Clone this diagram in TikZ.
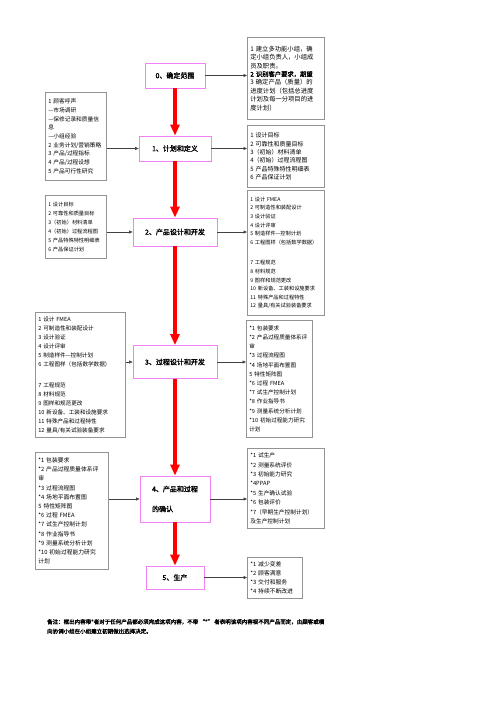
\documentclass[tikz,border=0pt]{standalone}
\usepackage{fontspec}
\setmainfont{Noto Sans CJK SC}[AutoFakeBold=2]
\usepackage{tikz}
\usetikzlibrary{arrows.meta}
\definecolor{fasecol}{RGB}{245,130,245}

\begin{document}
\begin{tikzpicture}[x=1pt, y=-1pt,
    fase/.style={draw=fasecol, line width=0.8pt, fill=white, align=left, inner xsep=6pt,
        font=\fontsize{7}{20}\selectfont\bfseries},
    elenco/.style={draw=gray!85, line width=0.7pt, anchor=north west, align=left,
        inner xsep=3pt, inner ysep=2pt, font=\fontsize{5.8}{9}\selectfont},
    flusso/.style={draw=red, line width=3.4pt, -{Triangle[width=9pt,length=11pt]}},
    freccia/.style={draw=black!75, line width=0.6pt, -{Triangle[width=3pt,length=3.5pt]}}]

    \fill[white] (0,0) rectangle (500,708);
    \useasboundingbox (0,0) rectangle (500,708);

    % fasi
    \node[fase, minimum width=60pt, minimum height=25pt] (c0) at (175,75.5) {0、确定范围};
    \node[fase, minimum width=72pt, minimum height=25pt] (c1) at (175,148.5) {1、计划和定义};
    \node[fase, minimum width=84pt, minimum height=28pt] (c2) at (175,232) {2、产品设计和开发};
    \node[fase, minimum width=84pt, minimum height=33pt] (c3) at (175,362) {3、过程设计和开发};
    \node[fase, minimum width=70pt, minimum height=46pt] (c4) at (175,499) {4、产品和过程\\的确认};
    \node[fase, minimum width=58pt, minimum height=23pt] (c5) at (175,577.5) {5、生产};

    \draw[flusso] (c0) -- (c1);
    \draw[flusso] (c1) -- (c2);
    \draw[flusso] (c2) -- (c3);
    \draw[flusso] (c3) -- (c4);
    \draw[flusso] (c4) -- (c5);

    % uscite
    \node[elenco, text width=71pt, minimum height=82pt, font=\fontsize{6.3}{8.4}\selectfont] (r0) at (247,37)
        {1 建立多功能小组，确\\ 定小组负责人，小组成\\ 员及职责。\\ {\bfseries 2 识别客户要求，期望}\\
         3 确定产品（质量）的\\ 进度计划（包括总进度\\ 计划及每一分项目的进\\ 度计划）};
    \node[elenco, text width=71pt, minimum height=62pt, font=\fontsize{6}{8.4}\selectfont] (r1) at (247,125)
        {1 设计目标\\ 2 可靠性和质量目标\\ 3（初始）材料清单\\ 4（初始）过程流程图\\ 5 产品特殊特性明细表\\ 6 产品保证计划};
    \node[elenco, text width=71pt, minimum height=125pt, font=\fontsize{5.2}{8.6}\selectfont] (r2) at (247,190)
        {1 设计 FMEA\\ 2 可制造性和装配设计\\ 3 设计验证\\ 4 设计评审\\ 5 制造样件—控制计划\\ 6 工程图样（包括数学数据）\\[12pt]
         7 工程规范\\ 8 材料规范\\ 9 图样和规范更改\\ 10 新设备、工装和设施要求\\ 11 特殊产品和过程特性\\ 12 量具/有关试验装备要求};
    \node[elenco, text width=60pt, minimum height=117pt, font=\fontsize{5.6}{9.2}\selectfont] (r3) at (246,320)
        {{*}1 包装要求\\ {*}2 产品过程质量体系评\\ 审\\ {*}3 过程流程图\\ {*}4 场地平面布置图\\ 5 特性矩阵图\\
         {*}6 过程 FMEA\\ {*}7 试生产控制计划\\ {*}8 作业指导书\\ {*}9 测量系统分析计划\\ {*}10 初始过程能力研究\\ 计划};
    \node[elenco, text width=71pt, minimum height=80pt, font=\fontsize{5.7}{9.4}\selectfont] (r4) at (247,448)
        {{*}1 试生产\\ {*}2 测量系统评价\\ {*}3 初始能力研究\\ {*}4PPAP\\ {*}5 生产确认试验\\ {*}6 包装评价\\
         {*}7（早期生产控制计划）\\ 及生产控制计划};
    \node[elenco, text width=49pt, minimum height=41pt] (r5) at (247,557)
        {{*}1 减少变差\\ {*}2 顾客满意\\ {*}3 交付和服务\\ {*}4 持续不断改进};

    % ingressi
    \node[elenco, text width=55pt, minimum height=88pt, font=\fontsize{5.7}{8.7}\selectfont] (l1) at (45,92)
        {1 顾客呼声\\ —市场调研\\ —保修记录和质量信\\ 息\\ —小组经验\\ 2 业务计划/营销策略\\
         3 产品/过程指标\\ 4 产品/过程设想\\ 5 产品可行性研究};
    \node[elenco, text width=55pt, minimum height=63pt, font=\fontsize{5.2}{9}\selectfont] (l2) at (45,195)
        {1 设计目标\\ 2 可靠性和质量目标\\ 3（初始）材料清单\\ 4（初始）过程流程图\\ 5 产品特殊特性明细表\\ 6 产品保证计划};
    \node[elenco, text width=84pt, minimum height=125pt, font=\fontsize{5.6}{9}\selectfont] (l3) at (35,312)
        {1 设计 FMEA\\ 2 可制造性和装配设计\\ 3 设计验证\\ 4 设计评审\\ 5 制造样件—控制计划\\ 6 工程图样（包括数学数据）\\[12pt]
         7 工程规范\\ 8 材料规范\\ 9 图样和规范更改\\ 10 新设备、工装和设施要求\\ 11 特殊产品和过程特性\\ 12 量具/有关试验装备要求};
    \node[elenco, text width=67pt, minimum height=117pt, font=\fontsize{5.8}{9.2}\selectfont] (l4) at (35,452)
        {{*}1 包装要求\\ {*}2 产品过程质量体系评\\ 审\\ {*}3 过程流程图\\ {*}4 场地平面布置图\\ 5 特性矩阵图\\
         {*}6 过程 FMEA\\ {*}7 试生产控制计划\\ {*}8 作业指导书\\ {*}9 测量系统分析计划\\ {*}10 初始过程能力研究\\ 计划};

    \draw[freccia] (c0.east) -- (c0.east -| r0.west);
    \draw[freccia] (c1.east) -- (c1.east -| r1.west);
    \draw[freccia] (c2.east) -- (c2.east -| r2.west);
    \draw[freccia] (c3.east) -- (c3.east -| r3.west);
    \draw[freccia] (c4.east) -- (c4.east -| r4.west);
    \draw[freccia] (c5.east) -- (c5.east -| r5.west);
    \draw[freccia] (l1.east |- c1.west) -- (c1.west);
    \draw[freccia] (l2.east |- c2.west) -- (c2.west);
    \draw[freccia] (l3.east |- c3.west) -- (c3.west);
    \draw[freccia] (l4.east |- c4.west) -- (c4.west);

    \node[anchor=north west, align=left, inner sep=0pt, font=\fontsize{5.5}{9.5}\selectfont\bfseries] (nota) at (47,619)
        {备注：框出内容带*者对于任何产品都必须完成这项内容，不带 “*” 者表明该项内容视不同产品而定，由顾客或横\\
         向协调小组在小组建立初期做出选择决定。};
\end{tikzpicture}
\end{document}
